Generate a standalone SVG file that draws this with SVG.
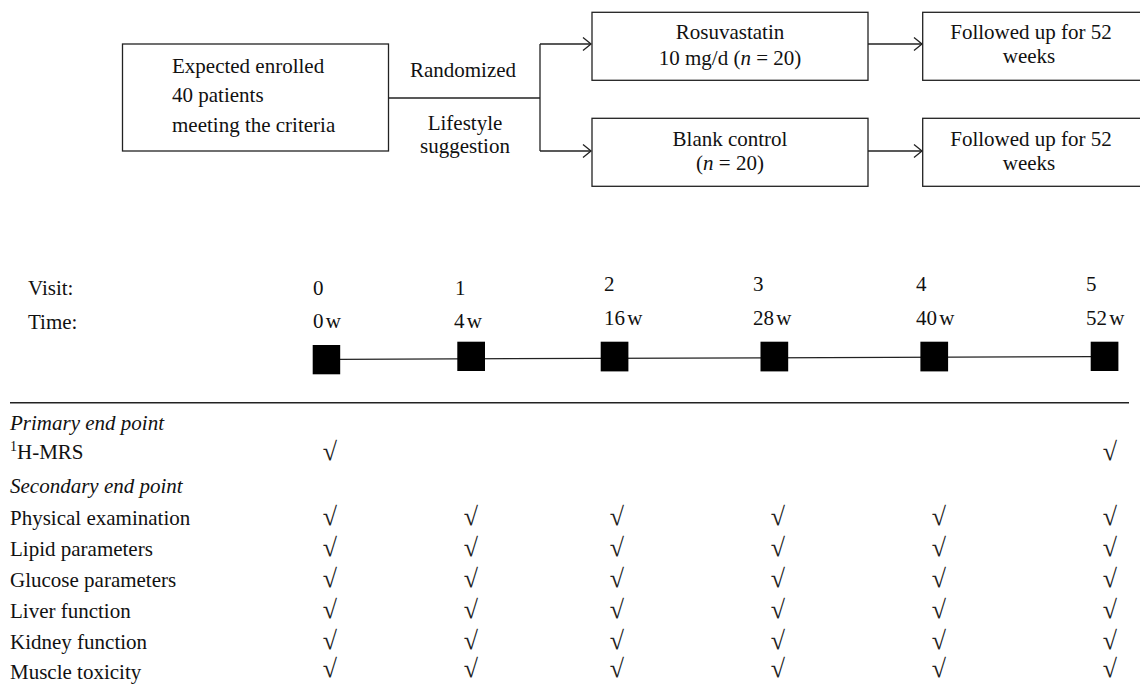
<svg xmlns="http://www.w3.org/2000/svg" width="1140" height="684" viewBox="0 0 1140 684">
<style>
text{font-family:"Liberation Serif","Times New Roman",serif;font-size:21px;fill:#111}
.c{text-anchor:middle}
.box{fill:#fff;stroke:#222;stroke-width:1.3}
.ln{fill:none;stroke:#222;stroke-width:1.3}
.sq{fill:#000}
.it{font-style:italic}
.tw{word-spacing:-3px}
.ck text{font-size:26px;text-anchor:middle;fill:#222}
</style>
<defs>
<marker id="arr" markerUnits="userSpaceOnUse" markerWidth="12" markerHeight="16" refX="9" refY="7" orient="auto">
<path d="M1,0.5 L9,7 L1,13.5" fill="none" stroke="#222" stroke-width="1.3"/>
</marker>
</defs>
<rect width="1140" height="684" fill="#fff"/>
<g id="connectors">
<path class="ln" d="M389,98 H540"/>
<path class="ln" d="M540,44 V151"/>
<path class="ln" d="M540,44 H591" marker-end="url(#arr)"/>
<path class="ln" d="M540,151 H591" marker-end="url(#arr)"/>
<path class="ln" d="M868,44 H922" marker-end="url(#arr)"/>
<path class="ln" d="M868,151 H922" marker-end="url(#arr)"/>
</g>
<g id="enrolled">
<rect class="box" x="122.5" y="44" width="266" height="107"/>
<text x="172" y="73">Expected enrolled</text>
<text x="172" y="102">40 patients</text>
<text x="172" y="132">meeting the criteria</text>
</g>
<g id="label-randomized">
<text class="c" x="463" y="77">Randomized</text>
<text class="c" x="465" y="130">Lifestyle</text>
<text class="c" x="465" y="152.5">suggestion</text>
</g>
<g id="rosuvastatin">
<rect class="box" x="592" y="12.3" width="276" height="68"/>
<text class="c" x="730" y="39.3">Rosuvastatin</text>
<text class="c" x="730" y="65">10 mg/d (<tspan class="it">n</tspan> = 20)</text>
</g>
<g id="blank-control">
<rect class="box" x="592" y="118.3" width="276" height="68"/>
<text class="c" x="730" y="145.7">Blank control</text>
<text class="c" x="730" y="170">(<tspan class="it">n</tspan> = 20)</text>
</g>
<g id="followup-1">
<rect class="box" x="922.7" y="12.3" width="220" height="68"/>
<text class="c" x="1031" y="39.3">Followed up for 52</text>
<text class="c" x="1029" y="62.7">weeks</text>
</g>
<g id="followup-2">
<rect class="box" x="922.7" y="118.3" width="220" height="68"/>
<text class="c" x="1031" y="145.7">Followed up for 52</text>
<text class="c" x="1029" y="170">weeks</text>
</g>
<g id="timeline">
<text x="28" y="295">Visit:</text>
<text x="28" y="329">Time:</text>
<text x="313" y="295">0</text>
<text x="455" y="295">1</text>
<text x="604" y="291">2</text>
<text x="753" y="291">3</text>
<text x="916" y="291">4</text>
<text x="1086" y="291">5</text>
<text class="tw" x="313" y="328">0 w</text>
<text class="tw" x="454" y="328">4 w</text>
<text class="tw" x="604" y="325">16 w</text>
<text class="tw" x="753" y="325">28 w</text>
<text class="tw" x="916" y="325">40 w</text>
<text class="tw" x="1086" y="325">52 w</text>
<path class="ln" d="M340,359.3 L1091,356.7"/>
<rect class="sq" x="312.7" y="345" width="27.5" height="29.3"/>
<rect class="sq" x="457.3" y="341.7" width="27.7" height="29.3"/>
<rect class="sq" x="600.7" y="341.7" width="27.7" height="29.7"/>
<rect class="sq" x="760.5" y="341.7" width="27.7" height="29.7"/>
<rect class="sq" x="920.4" y="341.7" width="27.7" height="29.7"/>
<rect class="sq" x="1090.7" y="341.7" width="27.7" height="29.3"/>
</g>
<g id="table">
<path d="M10,402.7 H1129" stroke="#222" stroke-width="1.4" fill="none"/>
<text class="it" x="10" y="430">Primary end point</text>
<text x="10" y="459"><tspan font-size="14" dy="-8">1</tspan><tspan dy="8">H-MRS</tspan></text>
<text class="it" x="10" y="493">Secondary end point</text>
<text x="10" y="525">Physical examination</text>
<text x="10" y="556">Lipid parameters</text>
<text x="10" y="587">Glucose parameters</text>
<text x="10" y="618">Liver function</text>
<text x="10" y="649">Kidney function</text>
<text x="10" y="679">Muscle toxicity</text>
<g class="ck">
<text x="330" y="460">√</text><text x="1110" y="460">√</text>
<text x="330" y="525">√</text><text x="471" y="525">√</text><text x="617" y="525">√</text><text x="778" y="525">√</text><text x="939" y="525">√</text><text x="1110" y="525">√</text>
<text x="330" y="556">√</text><text x="471" y="556">√</text><text x="617" y="556">√</text><text x="778" y="556">√</text><text x="939" y="556">√</text><text x="1110" y="556">√</text>
<text x="330" y="587">√</text><text x="471" y="587">√</text><text x="617" y="587">√</text><text x="778" y="587">√</text><text x="939" y="587">√</text><text x="1110" y="587">√</text>
<text x="330" y="618">√</text><text x="471" y="618">√</text><text x="617" y="618">√</text><text x="778" y="618">√</text><text x="939" y="618">√</text><text x="1110" y="618">√</text>
<text x="330" y="649">√</text><text x="471" y="649">√</text><text x="617" y="649">√</text><text x="778" y="649">√</text><text x="939" y="649">√</text><text x="1110" y="649">√</text>
<text x="330" y="677">√</text><text x="471" y="677">√</text><text x="617" y="677">√</text><text x="778" y="677">√</text><text x="939" y="677">√</text><text x="1110" y="677">√</text>
</g>
</g>
</svg>
